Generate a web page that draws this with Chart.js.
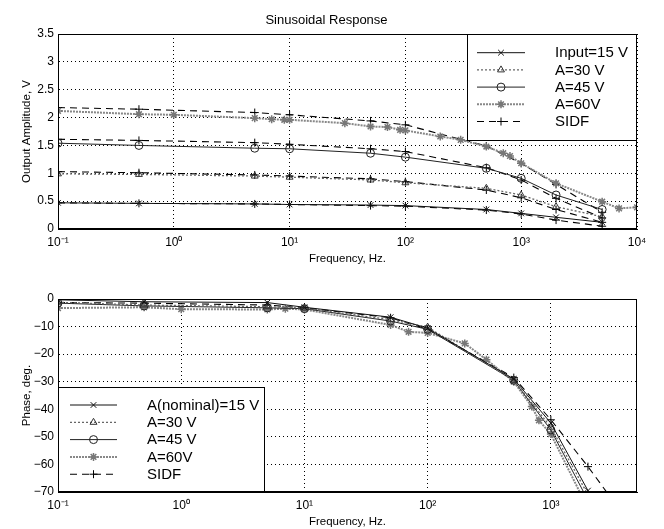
<!DOCTYPE html>
<html>
<head>
<meta charset="utf-8">
<script src="https://cdn.jsdelivr.net/npm/chart.js@4/dist/chart.umd.min.js"></script>
<style>
  html, body { margin: 0; padding: 0; background: #fff; }
  #wrap { position: relative; width: 664px; height: 529px; }
  canvas { position: absolute; left: 0; }
</style>
</head>
<body>
<div id="wrap">
  <canvas id="ampChart" width="664" height="267" style="top:0"></canvas>
  <canvas id="phaseChart" width="664" height="262" style="top:267px"></canvas>
</div>
<script>
// amplitude plot (top)
const freqTop = [0.1, 0.5, 5, 10, 50, 100, 500, 1000, 2000, 5000];
const ampIn15 = [0.47, 0.46, 0.45, 0.44, 0.43, 0.42, 0.35, 0.28, 0.21, 0.12];
const ampA30 = [0.99, 0.98, 0.95, 0.93, 0.88, 0.83, 0.73, 0.61, 0.40, 0.22];
const ampA45 = [1.54, 1.50, 1.45, 1.44, 1.36, 1.29, 1.09, 0.91, 0.61, 0.35];
const freqA60 = [0.1, 0.5, 1, 5, 7, 9, 10, 30, 50, 70, 90, 100, 200, 300, 500, 700, 800, 1000, 2000, 5000, 7000, 10000];
const ampA60 = [2.12, 2.06, 2.05, 1.99, 1.97, 1.96, 1.96, 1.90, 1.84, 1.83, 1.78, 1.77, 1.66, 1.60, 1.48, 1.36, 1.31, 1.18, 0.82, 0.49, 0.37, 0.39];
const sidfAmp15 = [0.47, 0.46, 0.45, 0.44, 0.42, 0.41, 0.34, 0.27, 0.16, 0.05];
const sidfAmp30 = [1.03, 1.01, 0.97, 0.95, 0.90, 0.85, 0.70, 0.56, 0.35, 0.12];
const sidfAmp45 = [1.61, 1.59, 1.55, 1.52, 1.44, 1.39, 1.10, 0.88, 0.55, 0.20];
const sidfAmp60 = [2.18, 2.15, 2.09, 2.05, 1.94, 1.87, 1.49, 1.18, 0.80, 0.30];

// phase plot (bottom)
const freqPhase = [0.1, 0.5, 5, 10, 50, 100, 500, 1000, 2000];
const phaseIn15 = [-0.3, -1.0, -1.3, -3.0, -6.6, -10.6, -29.0, -45.0, -69.5];
const phaseA30 = [-1.2, -2.2, -2.8, -3.3, -7.5, -10.2, -29.5, -46.5, -71];
const phaseA45 = [-1.5, -2.5, -3.2, -3.5, -8.0, -11.0, -29.5, -47.5, -73];
const freqPhaseA60 = [0.1, 0.5, 1, 5, 7, 10, 50, 70, 100, 200, 300, 500, 700, 800, 1000, 2000];
const phaseA60 = [-3.3, -3.0, -3.7, -3.8, -3.5, -3.8, -9.4, -11.9, -12.3, -16.1, -22, -30, -39, -44, -49, -76];
const freqSidfPhase = [0.1, 0.5, 5, 10, 50, 100, 500, 1000, 2000, 5000];
const phaseSidf = [-1.3, -1.5, -2.2, -3.2, -6.8, -11.0, -28.5, -43.8, -60.8, -85];

const labelsTop = ["Input=15 V", "A=30 V", "A=45 V", "A=60V", "SIDF"];
const labelsPhase = ["A(nominal)=15 V", "A=30 V", "A=45 V", "A=60V", "SIDF"];

const FONT = "'Liberation Sans', Arial, Helvetica, sans-serif";

const pts = (xs, ys) => xs.map((x, i) => ({ x: x, y: ys[i] }));

// line/marker styles per series kind
const styles = {
  in15: { borderColor: "#111", borderWidth: 1, borderDash: [], pointStyle: "crossRot", pointBorderColor: "#111" },
  a30: { borderColor: "#666", borderWidth: 1.3, borderDash: [2, 2], pointStyle: "triangle", pointBorderColor: "#333" },
  a45: { borderColor: "#222", borderWidth: 1, borderDash: [], pointStyle: "circle", pointBorderColor: "#222" },
  a60: { borderColor: "#888", borderWidth: 2, borderDash: [2, 1], pointStyle: "star", pointBorderColor: "#777" },
  sidf: { borderColor: "#000", borderWidth: 1.1, borderDash: [7, 5], pointStyle: "cross", pointBorderColor: "#000" }
};

function series(label, data, kind, hideInLegend) {
  const s = styles[kind];
  return {
    label: label,
    data: data,
    hideInLegend: !!hideInLegend,
    borderColor: s.borderColor,
    borderWidth: s.borderWidth,
    borderDash: s.borderDash,
    pointStyle: s.pointStyle,
    pointBorderColor: s.pointBorderColor,
    pointBackgroundColor: "rgba(0,0,0,0)",
    pointBorderWidth: kind === "a60" ? 1.5 : 1,
    pointRadius: 4,
    backgroundColor: "rgba(0,0,0,0)",
    fill: false,
    tension: 0
  };
}

const sup = { "-": "\u207B", "0": "\u2070", "1": "\u00B9", "2": "\u00B2", "3": "\u00B3", "4": "\u2074" };
function decadeLabel(v) {
  const e = String(Math.round(Math.log10(v)));
  return "10" + e.split("").map(c => sup[c]).join("");
}

// box around the axes + boxed legend, matlab style
const boxLegend = {
  id: "boxLegend",
  afterDraw(chart, args, o) {
    const ctx = chart.ctx;
    const a = chart.chartArea;
    ctx.save();
    ctx.setLineDash([]);
    ctx.strokeStyle = "#000";
    ctx.lineWidth = 1;
    ctx.strokeRect(a.left + 0.5, a.top + 0.5, a.right - a.left - 1, a.bottom - a.top - 1);

    ctx.fillStyle = "#fff";
    ctx.fillRect(o.x, o.y, o.w, o.h);
    ctx.strokeRect(o.x + 0.5, o.y + 0.5, o.w - 1, o.h - 1);

    const items = chart.data.datasets.filter(d => !d.hideInLegend);
    items.forEach((d, i) => {
      const y = o.rowY + i * o.rowStep;
      ctx.save();
      ctx.strokeStyle = d.borderColor;
      ctx.lineWidth = d.borderWidth;
      ctx.setLineDash(d.borderDash || []);
      ctx.beginPath();
      ctx.moveTo(o.lineX0, y);
      ctx.lineTo(o.lineX1, y);
      ctx.stroke();
      ctx.setLineDash([]);
      ctx.strokeStyle = d.pointBorderColor;
      ctx.fillStyle = "rgba(0,0,0,0)";
      ctx.lineWidth = d.pointBorderWidth;
      Chart.helpers.drawPoint(ctx, { pointStyle: d.pointStyle, radius: 4, rotation: 0, borderWidth: d.pointBorderWidth }, (o.lineX0 + o.lineX1) / 2, y);
      ctx.restore();
      ctx.fillStyle = "#000";
      ctx.font = "15px " + FONT;
      ctx.textBaseline = "middle";
      ctx.textAlign = "left";
      ctx.fillText(d.label, o.textX, y + 0.5);
    });
    ctx.restore();
  }
};

function makeOptions(cfg) {
  return {
    responsive: false,
    animation: false,
    devicePixelRatio: 1,
    layout: { padding: { left: 16, right: 27, top: cfg.padTop, bottom: 0 } },
    plugins: {
      legend: { display: false },
      tooltip: { enabled: false },
      title: cfg.title ? {
        display: true, text: cfg.title, color: "#000",
        font: { family: FONT, size: 13, weight: "normal" },
        padding: { top: 13, bottom: 5.4 }
      } : { display: false },
      boxLegend: cfg.legend
    },
    scales: {
      x: {
        type: "logarithmic",
        min: 0.1,
        max: cfg.xMax,
        afterBuildTicks: s => { s.ticks = cfg.xTicks.map(v => ({ value: v })); },
        afterFit: s => { s.height = cfg.xHeight; },
        ticks: {
          color: "#000", padding: 6, maxRotation: 0, autoSkip: false,
          font: { family: FONT, size: 12 },
          callback: v => decadeLabel(v)
        },
        grid: { color: "#000", lineWidth: 1, drawTicks: false },
        border: { display: true, color: "#000", width: 1, dash: [1, 3] },
        title: {
          display: true, text: "Frequency, Hz.", color: "#000",
          font: { family: FONT, size: 11.5 },
          padding: { top: 0, bottom: cfg.xTitlePad }
        }
      },
      y: {
        min: cfg.yMin,
        max: cfg.yMax,
        afterFit: s => { s.width = 42; },
        ticks: {
          stepSize: cfg.yStep, color: "#000", padding: 4,
          font: { family: FONT, size: 12 },
          callback: v => String(v).replace("-", "\u2212")
        },
        grid: { color: "#000", lineWidth: 1, drawTicks: false },
        border: { display: true, color: "#000", width: 1, dash: [1, 3] },
        title: {
          display: true, text: cfg.yTitle, color: "#000",
          font: { family: FONT, size: 11.5 },
          padding: { top: 4, bottom: 4 }
        }
      }
    }
  };
}

new Chart(document.getElementById("ampChart"), {
  type: "line",
  data: {
    datasets: [
      series(labelsTop[0], pts(freqTop, ampIn15), "in15"),
      series(labelsTop[1], pts(freqTop, ampA30), "a30"),
      series(labelsTop[2], pts(freqTop, ampA45), "a45"),
      series(labelsTop[3], pts(freqA60, ampA60), "a60"),
      series(labelsTop[4], pts(freqTop, sidfAmp15), "sidf"),
      series(labelsTop[4], pts(freqTop, sidfAmp30), "sidf", true),
      series(labelsTop[4], pts(freqTop, sidfAmp45), "sidf", true),
      series(labelsTop[4], pts(freqTop, sidfAmp60), "sidf", true)
    ]
  },
  options: makeOptions({
    title: "Sinusoidal Response",
    padTop: 0,
    xMax: 10000,
    xTicks: [0.1, 1, 10, 100, 1000, 10000],
    xHeight: 38,
    xTitlePad: 1,
    yMin: 0, yMax: 3.5, yStep: 0.5,
    yTitle: "Output Amplitude, V",
    legend: { x: 467, y: 34, w: 170, h: 107, lineX0: 477, lineX1: 525, textX: 555, rowY: 52.7, rowStep: 17.2 }
  }),
  plugins: [boxLegend]
});

new Chart(document.getElementById("phaseChart"), {
  type: "line",
  data: {
    datasets: [
      series(labelsPhase[0], pts(freqPhase, phaseIn15), "in15"),
      series(labelsPhase[1], pts(freqPhase, phaseA30), "a30"),
      series(labelsPhase[2], pts(freqPhase, phaseA45), "a45"),
      series(labelsPhase[3], pts(freqPhaseA60, phaseA60), "a60"),
      series(labelsPhase[4], pts(freqSidfPhase, phaseSidf), "sidf")
    ]
  },
  options: makeOptions({
    title: null,
    padTop: 32,
    xMax: 5000,
    xTicks: [0.1, 1, 10, 100, 1000],
    xHeight: 37,
    xTitlePad: 0,
    yMin: -70, yMax: 0, yStep: 10,
    yTitle: "Phase, deg.",
    legend: { x: 58, y: 120, w: 207, h: 105, lineX0: 70, lineX1: 117, textX: 147, rowY: 138, rowStep: 17.3 }
  }),
  plugins: [boxLegend]
});
</script>
</body>
</html>
